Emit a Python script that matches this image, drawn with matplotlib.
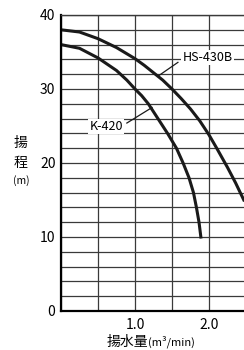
import numpy as np
import matplotlib
matplotlib.use('Agg')
import matplotlib.pyplot as plt

plt.rcParams['font.family'] = ['Noto Sans CJK JP', 'DejaVu Sans']

# Pump curves (flow m3/min, head m)
hs_flow = [0.0, 0.25, 0.5, 0.75, 1.0, 1.125, 1.25, 1.375, 1.5, 1.625, 1.75, 1.875, 2.0, 2.11, 2.25, 2.36, 2.47]
hs_head = [38.0, 37.7, 36.8, 35.6, 34.1, 33.2, 32.2, 31.2, 30.0, 28.7, 27.3, 25.7, 23.8, 21.9, 19.4, 17.3, 15.0]

k_flow = [0.0, 0.25, 0.5, 0.75, 0.89, 1.0, 1.09, 1.18, 1.31, 1.44, 1.56, 1.65, 1.73, 1.79, 1.83, 1.865, 1.89]
k_head = [36.0, 35.5, 34.2, 32.5, 31.2, 30.0, 29.1, 28.0, 26.0, 24.0, 22.0, 20.0, 18.0, 16.0, 14.0, 12.0, 10.0]

x_ticks = [1.0, 2.0]
x_tick_labels = ['1.0', '2.0']
y_ticks = [0, 10, 20, 30, 40]

fig = plt.figure(figsize=(2.44, 3.5), dpi=100)
ax = fig.add_axes([61 / 244, 39 / 350, 185 / 244, 296 / 350])

# Grid: every 0.5 on x, every 2 on y
ax.set_xticks(np.arange(0, 2.51, 0.5), minor=True)
ax.set_yticks(np.arange(0, 40.1, 2), minor=True)
ax.set_xticks(x_ticks)
ax.set_xticklabels(x_tick_labels)
ax.set_yticks(y_ticks)
ax.grid(which='both', color='#3a3a3a', linewidth=0.9)
ax.set_axisbelow(True)
ax.tick_params(which='both', length=0)
ax.tick_params(axis='y', pad=4, labelsize=10)
ax.tick_params(axis='x', pad=5, labelsize=10)

ax.set_xlim(0, 2.5)
ax.set_ylim(0, 40)

for s in ['left', 'bottom']:
    ax.spines[s].set_linewidth(1.6)
ax.spines['top'].set_linewidth(1.0)
ax.spines['top'].set_color('#3a3a3a')
ax.spines['right'].set_visible(False)

# Curves
ax.plot(hs_flow, hs_head, color='#1a1a1a', linewidth=2.2, solid_joinstyle='round')
ax.plot(k_flow, k_head, color='#1a1a1a', linewidth=2.2, solid_joinstyle='round')

# Labels with leader lines
ax.plot([1.32, 1.58], [31.8, 33.6], color='#1a1a1a', linewidth=0.9)
ax.text(1.98, 34.3, 'HS-430B', ha='center', va='center', fontsize=9,
        bbox=dict(facecolor='white', edgecolor='none', pad=0.8))
ax.plot([0.89, 1.23], [25.4, 27.5], color='#1a1a1a', linewidth=0.9)
ax.text(0.61, 24.9, 'K-420', ha='center', va='center', fontsize=9,
        bbox=dict(facecolor='white', edgecolor='none', pad=0.8))

# Axis titles
fig.text(21 / 244, 1 - 143 / 350, '揚', ha='center', va='center', fontsize=10)
fig.text(21 / 244, 1 - 163 / 350, '程', ha='center', va='center', fontsize=10)
fig.text(21 / 244, 1 - 181 / 350, '(m)', ha='center', va='center', fontsize=7.5)

fig.text(148 / 244, 1 - 346 / 350, '揚水量', ha='right', va='baseline', fontsize=10)
fig.text(148 / 244, 1 - 346 / 350, '(m³/min)', ha='left', va='baseline', fontsize=8)

fig.savefig('out.png', dpi=100)
